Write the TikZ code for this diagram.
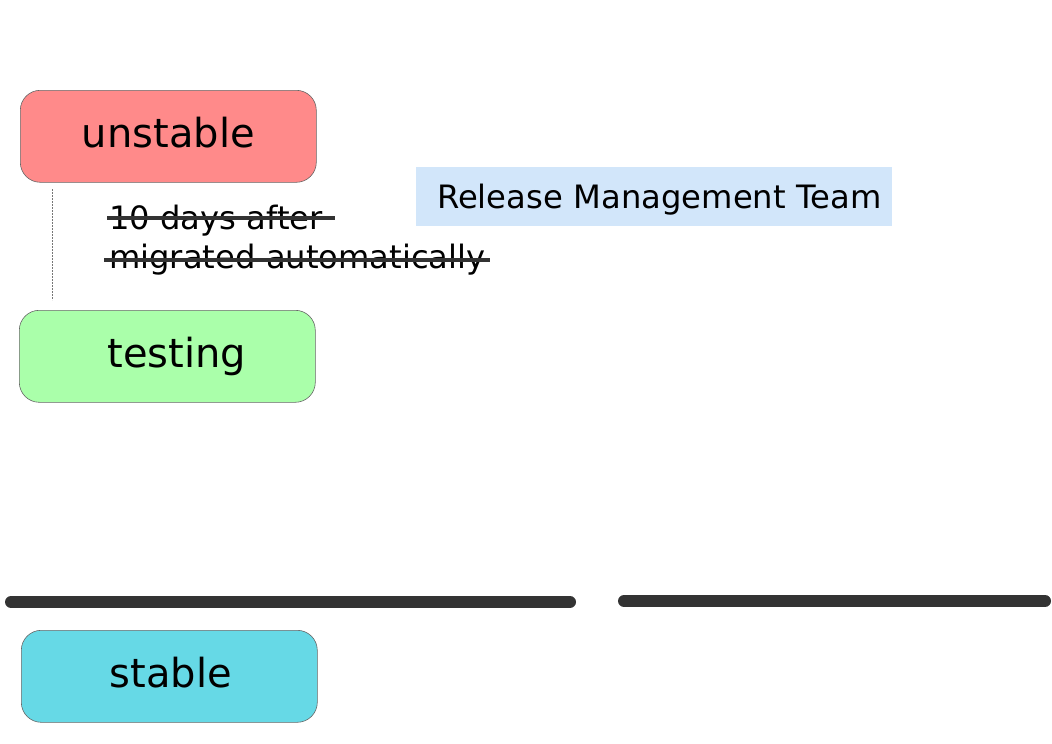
\documentclass[tikz,border=0pt]{standalone}
\usepackage{fontspec}
\setmainfont{DejaVu Sans}
\definecolor{unstc}{HTML}{FF8A8A}
\definecolor{testc}{HTML}{AAFFAA}
\definecolor{stabc}{HTML}{66D9E6}
\definecolor{rmtc}{HTML}{D2E6FA}
\definecolor{darkc}{HTML}{333333}
\definecolor{edgec}{HTML}{666666}
\definecolor{dotc}{HTML}{777777}
\tikzset{
  suite/.style={draw=edgec, line width=0.6pt, rounded corners=20pt, minimum width=296pt, minimum height=92pt,
    inner sep=0pt, anchor=north west, font=\fontsize{40}{46}\selectfont, text height=30pt, text depth=8pt},
  note/.style={anchor=base west, inner sep=0pt, font=\fontsize{32.2}{37}\selectfont},
  strike/.style={draw=darkc, line width=4pt},
  bar/.style={draw=darkc, line width=12pt, line cap=round},
  dotline/.style={draw=dotc, line width=1pt, dash pattern=on 2pt off 1pt}
}
\begin{document}
\begin{tikzpicture}[x=1pt,y=-1pt]
\useasboundingbox (0,0) rectangle (1052,744);
\node[suite, fill=unstc] (unstable) at (20,90) {unstable};
\node[suite, fill=testc] (testing) at (19,310) {\hspace*{19pt}testing};
\node[suite, fill=stabc] (stable) at (21,630) {\hspace*{3pt}stable};
\node[fill=rmtc, anchor=north west, minimum height=59pt, inner sep=0pt, text width=476pt, align=left,
  font=\fontsize{32.2}{37}\selectfont, text height=23pt, text depth=0pt] (rmt) at (416,167) {\hspace*{21pt}Release Management Team};
\node[note] (days) at (109,229) {10 days after};
\node[note] (migr) at (109,268) {migrated automatically};
\coordinate (s1a) at (107,218); \coordinate (s1b) at (335,218);
\coordinate (s2a) at (104,260); \coordinate (s2b) at (490,260);
\draw[strike] (s1a) -- (s1b);
\draw[strike] (s2a) -- (s2b);
\coordinate (d1) at (52,189); \coordinate (d2) at (52,300);
\draw[dotline] (d1) -- (d2);
\coordinate (b1a) at (11,602); \coordinate (b1b) at (570,602);
\coordinate (b2a) at (624,601); \coordinate (b2b) at (1045,601);
\draw[bar] (b1a) -- (b1b);
\draw[bar] (b2a) -- (b2b);
\end{tikzpicture}
\end{document}
